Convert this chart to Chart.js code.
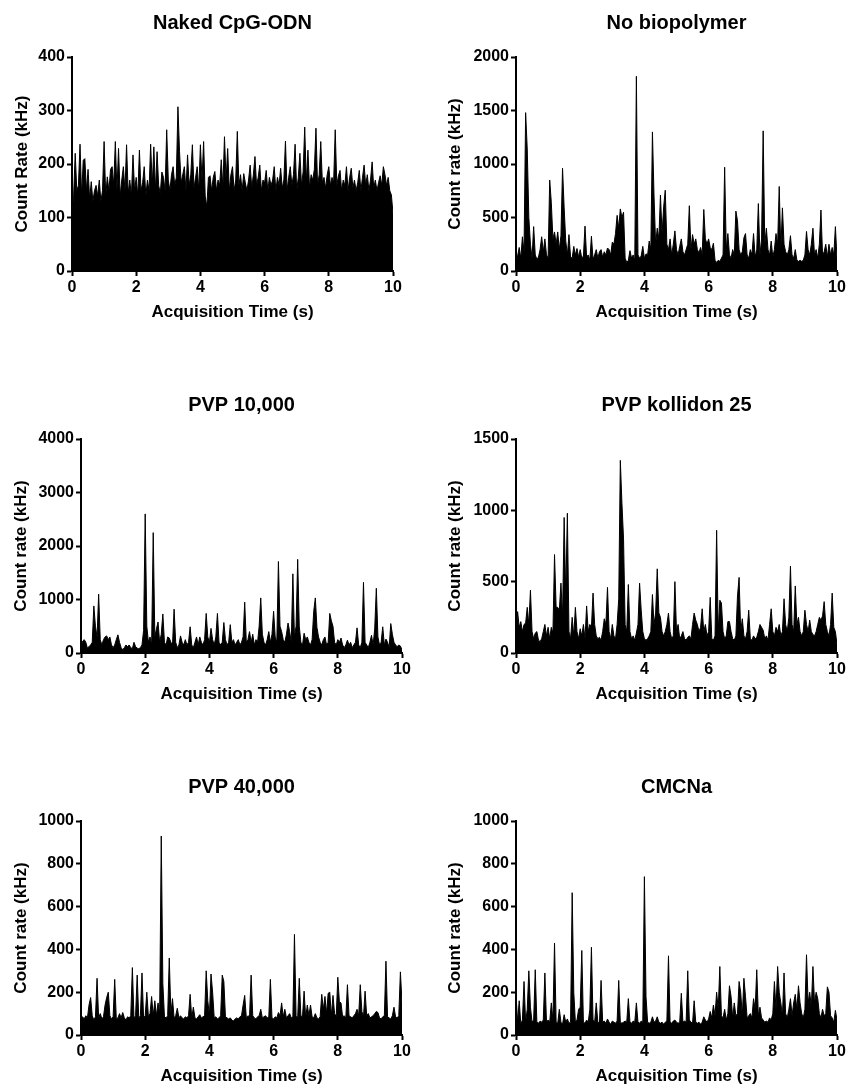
<!DOCTYPE html>
<html>
<head>
<meta charset="utf-8">
<script src="https://cdn.jsdelivr.net/npm/chart.js@4.4.1/dist/chart.umd.min.js"></script>
<style>
    body { margin: 0; background: #fff; width: 849px; height: 1089px; overflow: hidden; position: relative; }
    canvas { position: absolute; }
</style>
</head>
<body>
<canvas id="c1" width="425" height="325" style="left:0px;top:0px"></canvas>
<canvas id="c2" width="424" height="325" style="left:425px;top:0px"></canvas>
<canvas id="c3" width="425" height="325" style="left:0px;top:382px"></canvas>
<canvas id="c4" width="424" height="325" style="left:425px;top:382px"></canvas>
<canvas id="c5" width="425" height="325" style="left:0px;top:764px"></canvas>
<canvas id="c6" width="424" height="325" style="left:425px;top:764px"></canvas>
<script>
// sample times (s), one point every 0.05 s from 0 to 10
const sampleStep = 0.05;
const times = [];
for (let i = 0; i <= 200; i++) times.push(+(i * sampleStep).toFixed(2));

const xTicks = [0, 2, 4, 6, 8, 10];

// count rate (kHz)
const nakedCpG = [
    110, 140, 220, 150, 160, 237, 140, 207, 210, 150, 190, 135, 167, 130, 150, 160, 140, 170, 130, 150,
    242, 140, 176, 150, 190, 195, 160, 242, 150, 229, 140, 170, 195, 150, 236, 145, 170, 140, 217, 150,
    175, 140, 226, 150, 165, 195, 140, 170, 150, 237, 160, 232, 150, 223, 160, 145, 185, 175, 150, 264,
    170, 150, 180, 195, 160, 175, 307, 223, 165, 180, 195, 150, 217, 160, 180, 236, 155, 175, 195, 150,
    236, 170, 242, 140, 120, 175, 178, 150, 175, 186, 150, 170, 160, 208, 155, 251, 170, 229, 150, 180,
    195, 150, 170, 261, 160, 180, 150, 182, 165, 150, 170, 198, 155, 180, 214, 160, 175, 198, 150, 170,
    165, 188, 150, 175, 160, 170, 195, 150, 175, 160, 192, 155, 170, 243, 150, 175, 195, 160, 180, 237,
    150, 175, 220, 160, 185, 269, 165, 226, 155, 180, 170, 190, 267, 160, 180, 242, 165, 175, 155, 180,
    195, 160, 175, 165, 264, 160, 178, 188, 150, 170, 160, 195, 150, 175, 192, 155, 170, 150, 165, 188,
    150, 175, 198, 160, 180, 150, 170, 204, 155, 170, 150, 165, 178, 160, 195, 180, 160, 175, 150, 142,
    107
];
const noBiopolymer = [
    60, 140, 220, 120, 320, 180, 1480, 1140, 500, 250, 120, 415, 150, 110, 130, 200, 320, 180, 300, 150,
    120, 850, 640, 300, 365, 250, 365, 200, 330, 960, 590, 280, 150, 340, 130, 120, 230, 150, 210, 130,
    200, 120, 140, 420, 130, 150, 100, 325, 110, 150, 200, 120, 180, 200, 130, 180, 150, 215, 200, 150,
    270, 250, 350, 520, 400, 580, 500, 550, 120, 80, 100, 190, 120, 150, 100, 1820, 150, 120, 140, 230,
    120, 160, 150, 280, 200, 1300, 700, 250, 400, 300, 710, 350, 600, 755, 250, 200, 300, 150, 250, 375,
    200, 150, 230, 300, 180, 150, 200, 250, 610, 200, 340, 250, 300, 200, 170, 220, 150, 575, 300, 250,
    300, 220, 200, 260, 100, 80, 100, 90, 120, 150, 970, 200, 350, 150, 120, 200, 150, 560, 470, 200,
    150, 180, 310, 350, 150, 120, 200, 150, 350, 130, 200, 630, 150, 300, 1310, 250, 400, 200, 150, 280,
    130, 200, 350, 250, 790, 200, 590, 250, 180, 150, 200, 330, 150, 120, 200, 100, 90, 100, 90, 100,
    150, 370, 200, 150, 250, 400, 150, 200, 120, 250, 570, 150, 180, 250, 130, 250, 150, 220, 150, 415,
    120
];
const pvp10k = [
    100, 220, 250, 200, 90, 120, 150, 200, 880, 500, 300, 1100, 250, 150, 250, 300, 320, 250, 300, 150,
    100, 150, 250, 340, 200, 100, 60, 100, 150, 120, 150, 100, 80, 200, 120, 90, 80, 100, 150, 420,
    2600, 500, 200, 300, 150, 2250, 300, 450, 580, 200, 350, 730, 200, 150, 300, 280, 200, 150, 820, 200,
    100, 150, 320, 200, 150, 250, 150, 200, 490, 150, 100, 200, 300, 150, 300, 200, 150, 250, 740, 300,
    200, 460, 250, 150, 300, 740, 200, 150, 200, 570, 250, 150, 200, 530, 200, 250, 150, 200, 250, 150,
    200, 300, 950, 200, 250, 400, 200, 350, 150, 250, 200, 500, 1030, 350, 200, 150, 250, 400, 200, 350,
    780, 300, 200, 1710, 500, 400, 250, 200, 350, 560, 400, 200, 1480, 300, 500, 1750, 500, 200, 150, 370,
    250, 300, 200, 150, 250, 780, 1030, 480, 300, 200, 150, 250, 300, 150, 200, 740, 600, 500, 200, 150,
    250, 200, 280, 150, 100, 150, 240, 150, 200, 100, 150, 200, 470, 150, 100, 200, 1320, 200, 150, 100,
    200, 330, 150, 450, 1210, 300, 150, 200, 490, 150, 260, 200, 100, 550, 350, 200, 150, 120, 150, 130,
    60
];
const pvpKollidon25 = [
    100, 290, 180, 220, 150, 200, 210, 320, 200, 440, 150, 100, 140, 150, 90, 80, 100, 150, 200, 120,
    180, 100, 180, 140, 690, 320, 320, 300, 490, 250, 950, 400, 980, 150, 100, 250, 120, 320, 150, 100,
    170, 120, 200, 100, 330, 150, 200, 180, 420, 200, 120, 100, 110, 90, 150, 240, 200, 460, 150, 100,
    200, 120, 100, 200, 380, 1350, 1050, 800, 200, 150, 480, 150, 100, 120, 90, 140, 200, 490, 300, 150,
    100, 90, 100, 120, 150, 410, 200, 280, 590, 280, 250, 150, 120, 150, 200, 280, 150, 100, 120, 500,
    150, 200, 100, 120, 150, 100, 90, 110, 120, 100, 200, 280, 230, 200, 150, 180, 310, 150, 200, 120,
    150, 390, 100, 90, 120, 860, 150, 370, 350, 150, 100, 120, 220, 220, 150, 100, 90, 120, 400, 530,
    150, 240, 120, 100, 150, 300, 100, 90, 120, 100, 110, 150, 200, 180, 160, 100, 120, 90, 200, 310,
    150, 120, 180, 150, 200, 120, 150, 380, 200, 150, 250, 610, 200, 150, 470, 200, 250, 150, 120, 150,
    300, 200, 150, 230, 150, 130, 120, 150, 200, 250, 230, 260, 360, 200, 150, 120, 200, 420, 180, 150,
    60
];
const pvp40k = [
    80, 85, 75, 90, 80, 140, 175, 90, 70, 85, 265, 80, 100, 75, 85, 140, 175, 200, 90, 75,
    85, 260, 75, 80, 100, 80, 105, 80, 70, 85, 80, 90, 315, 80, 90, 280, 80, 90, 290, 80,
    90, 200, 85, 100, 180, 90, 160, 90, 150, 100, 930, 240, 85, 80, 90, 360, 100, 170, 80, 90,
    125, 80, 90, 80, 75, 85, 80, 90, 190, 80, 130, 80, 75, 85, 95, 80, 85, 90, 300, 160,
    90, 285, 200, 80, 85, 75, 80, 90, 280, 250, 85, 80, 75, 80, 70, 65, 75, 80, 75, 85,
    90, 140, 185, 80, 90, 85, 280, 90, 80, 75, 85, 90, 120, 80, 85, 90, 80, 85, 260, 80,
    75, 85, 80, 105, 90, 150, 85, 120, 80, 90, 100, 80, 85, 470, 90, 80, 265, 90, 85, 205,
    80, 140, 90, 140, 85, 80, 100, 80, 75, 85, 190, 120, 180, 100, 195, 200, 90, 185, 100, 85,
    270, 155, 150, 85, 90, 80, 235, 90, 85, 80, 90, 100, 120, 90, 235, 110, 85, 205, 90, 100,
    80, 85, 90, 100, 110, 105, 80, 75, 85, 90, 345, 85, 80, 75, 90, 130, 85, 80, 90, 295,
    150
];
const cmcna = [
    190, 60, 160, 50, 70, 250, 60, 120, 300, 130, 60, 70, 305, 60, 55, 65, 60, 70, 290, 60,
    70, 60, 150, 70, 430, 60, 55, 120, 60, 50, 95, 60, 75, 55, 60, 665, 200, 60, 70, 120,
    130, 395, 60, 55, 70, 60, 120, 410, 70, 60, 150, 60, 55, 255, 60, 65, 55, 75, 60, 50,
    65, 60, 55, 65, 255, 60, 55, 60, 65, 60, 170, 60, 55, 65, 60, 150, 60, 55, 65, 60,
    740, 180, 60, 55, 60, 85, 60, 65, 85, 60, 55, 60, 50, 60, 65, 370, 60, 55, 65, 70,
    60, 55, 60, 195, 60, 65, 60, 300, 70, 60, 55, 160, 60, 55, 60, 50, 60, 85, 70, 60,
    75, 110, 80, 140, 90, 200, 120, 320, 90, 80, 120, 70, 100, 230, 180, 80, 150, 90, 100, 250,
    200, 90, 265, 180, 80, 90, 100, 80, 170, 120, 305, 90, 130, 80, 70, 60, 65, 60, 80, 70,
    100, 250, 120, 320, 200, 150, 90, 290, 100, 80, 120, 170, 90, 150, 190, 120, 230, 150, 100, 80,
    120, 375, 150, 200, 130, 320, 150, 200, 170, 100, 80, 120, 90, 100, 225, 200, 90, 80, 60, 115,
    70
];

Chart.defaults.font.family = "'Liberation Sans', Arial, sans-serif";
Chart.defaults.font.weight = 'bold';
Chart.defaults.color = '#000';

function makePanel(id, title, yTitle, values, yMax, yStep, yWidth, yTitlePad, rightPad) {
    const ctx = document.getElementById(id).getContext('2d');
    return new Chart(ctx, {
        type: 'line',
        data: {
            labels: times,
            datasets: [{
                data: values,
                borderColor: '#000',
                backgroundColor: '#000',
                borderWidth: 1,
                pointRadius: 0,
                tension: 0,
                fill: 'origin'
            }]
        },
        options: {
            responsive: false,
            animation: false,
            layout: { padding: { left: 0, right: rightPad, top: 0, bottom: 0 } },
            plugins: {
                legend: { display: false },
                tooltip: { enabled: false },
                title: {
                    display: true,
                    text: title,
                    fullSize: false,
                    font: { size: 20, weight: 'bold' },
                    padding: { top: 11, bottom: 22 }
                }
            },
            scales: {
                x: {
                    type: 'linear',
                    min: 0,
                    max: 10,
                    afterBuildTicks: function (scale) {
                        scale.ticks = xTicks.map(function (v) { return { value: v }; });
                    },
                    afterFit: function (scale) { scale.height = 54; },
                    border: { display: true, color: '#000', width: 2 },
                    grid: { drawOnChartArea: false, drawTicks: true, tickLength: 5, tickWidth: 2, tickColor: '#000' },
                    ticks: {
                        font: { size: 16, weight: 'bold' }, padding: 2, maxRotation: 0, autoSkip: false,
                        callback: function (v) { return String(v); }
                    },
                    title: {
                        display: true,
                        text: 'Acquisition Time (s)',
                        font: { size: 17, weight: 'bold' },
                        padding: { top: 0, bottom: 2 }
                    }
                },
                y: {
                    min: 0,
                    max: yMax,
                    afterFit: function (scale) { scale.width = yWidth; },
                    border: { display: true, color: '#000', width: 2 },
                    grid: { drawOnChartArea: false, drawTicks: true, tickLength: 5, tickWidth: 2, tickColor: '#000' },
                    ticks: {
                        stepSize: yStep, font: { size: 16, weight: 'bold' }, padding: 2,
                        callback: function (v) { return String(v); }
                    },
                    title: {
                        display: true,
                        text: yTitle,
                        font: { size: 17, weight: 'bold' },
                        padding: { top: yTitlePad, bottom: 0 }
                    }
                }
            }
        }
    });
}

makePanel('c1', 'Naked CpG-ODN', 'Count Rate (kHz)', nakedCpG, 400, 100, 72, 12, 32);
makePanel('c2', 'No biopolymer', 'Count rate (kHz)', noBiopolymer, 2000, 500, 91, 20, 12);
makePanel('c3', 'PVP 10,000', 'Count rate (kHz)', pvp10k, 4000, 1000, 81, 11, 23);
makePanel('c4', 'PVP kollidon 25', 'Count rate (kHz)', pvpKollidon25, 1500, 500, 91, 20, 12);
makePanel('c5', 'PVP 40,000', 'Count rate (kHz)', pvp40k, 1000, 200, 81, 11, 23);
makePanel('c6', 'CMCNa', 'Count rate (kHz)', cmcna, 1000, 200, 91, 20, 12);
</script>
</body>
</html>
